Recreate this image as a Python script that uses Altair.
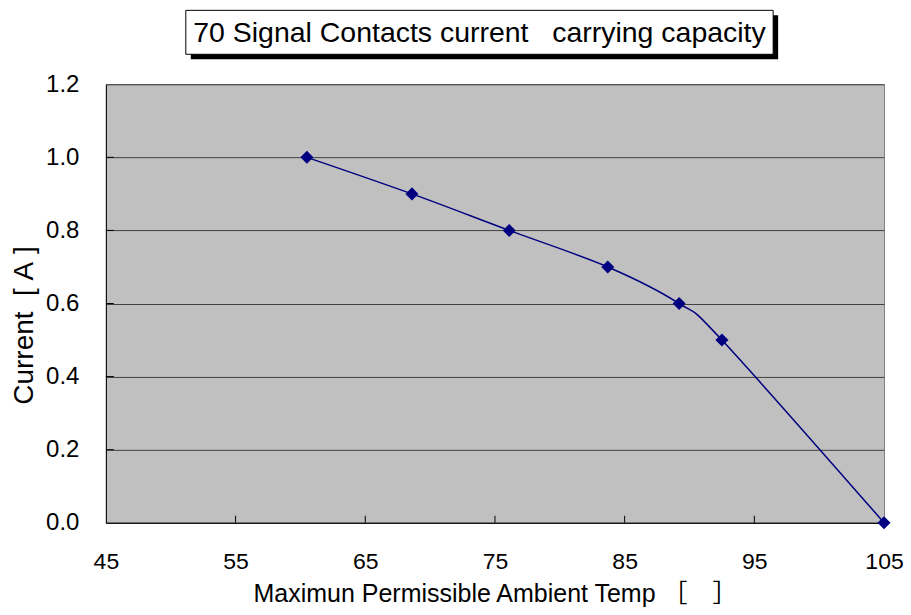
import altair as alt
import pandas as pd

# ---- data ----
temps = [60.5, 68.6, 76.1, 83.7, 89.2, 92.5, 105.0]
currents = [1.0, 0.9, 0.8, 0.7, 0.6, 0.5, 0.0]
x_ticks = [45, 55, 65, 75, 85, 95, 105]
y_ticks = [0.0, 0.2, 0.4, 0.6, 0.8, 1.0, 1.2]
title_text = "70 Signal Contacts current\u00a0\u00a0\u00a0carrying capacity"
x_title = "Maximun Permissible Ambient Temp ［　］"
y_title = "Current\u00a0\u00a0[\u00a0A\u00a0]"

W, H = 779, 439
FONT = "Liberation Sans, Arial, Noto Sans CJK SC"
NAVY = "#000080"

df = pd.DataFrame({"temp": temps, "current": currents})
xs = alt.Scale(domain=[45, 105], nice=False, zero=False)
ys = alt.Scale(domain=[0, 1.2], nice=False, zero=True)

x_axis = alt.Axis(
    values=x_ticks, title=x_title, ticks=False, tickSize=0, grid=False,
    domainColor="black", domainWidth=1,
    labelFont=FONT, labelFontSize=23, labelColor="black",
    labelPadding=46, labelBaseline="alphabetic", labelFlush=False,
    titleFont=FONT, titleFontSize=25, titleFontWeight="normal", titleColor="black",
    titleX=W / 2, titleY=79, titleAlign="center", titleBaseline="alphabetic",
)
y_axis = alt.Axis(
    values=y_ticks, format=".1f", title=y_title, ticks=False, tickSize=0,
    grid=True, gridColor="#404040", gridWidth=1,
    domainColor="black", domainWidth=1,
    labelFont=FONT, labelFontSize=24, labelColor="black",
    labelPadding=27, labelBaseline="middle", labelAlign="right", labelFlush=False,
    titleFont=FONT, titleFontSize=28, titleFontWeight="normal", titleColor="black",
    titleAngle=270, titleX=-73, titleY=241, titleAlign="center", titleBaseline="alphabetic",
)

X = alt.X("temp:Q", scale=xs, axis=x_axis)
Y = alt.Y("current:Q", scale=ys, axis=y_axis)

base = alt.Chart(df)

line = base.mark_line(color=NAVY, strokeWidth=1.5, interpolate="cardinal").encode(x=X, y=Y)
points = base.mark_point(shape="diamond", filled=True, size=170, color=NAVY, opacity=1).encode(x=X, y=Y)

xt = alt.Chart(pd.DataFrame({"temp": x_ticks[1:-1]})).mark_rule(color="black", strokeWidth=1).encode(
    x=X, y=alt.value(H - 7), y2=alt.value(H),
)
yt = alt.Chart(pd.DataFrame({"current": y_ticks[1:-1]})).mark_rule(color="black", strokeWidth=1).encode(
    y=Y, x=alt.value(0), x2=alt.value(8),
)

tdf = pd.DataFrame({"label": [title_text]})
shadow = alt.Chart(tdf).mark_rect(color="black").encode(
    x=alt.value(85), x2=alt.value(673), y=alt.value(-69), y2=alt.value(-25)
)
box = alt.Chart(tdf).mark_rect(fill="white", stroke="black", strokeWidth=1).encode(
    x=alt.value(80), x2=alt.value(668), y=alt.value(-74), y2=alt.value(-30)
)
ttext = alt.Chart(tdf).mark_text(font=FONT, fontSize=28.5, color="black",
                                 align="center", baseline="middle").encode(
    text="label:N", x=alt.value(374), y=alt.value(-51)
)

chart = alt.layer(xt, yt, line, points, shadow, box, ttext).properties(
    width=W, height=H,
    autosize=alt.AutoSizeParams(type="none"),
    padding={"left": 98, "top": 76, "right": 19, "bottom": 84},
).configure_view(fill="#c0c0c0", stroke="#808080", strokeWidth=1)

chart.save("out.html", embed_options={"renderer": "svg", "actions": False})
